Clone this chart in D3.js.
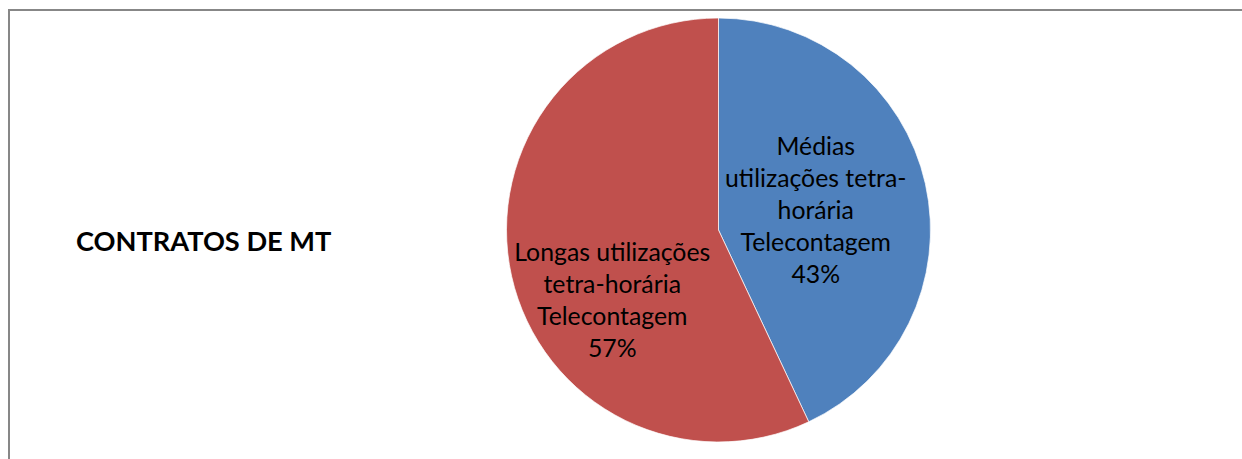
<!DOCTYPE html>
<html>
<head>
<meta charset="utf-8">
<script src="https://cdn.jsdelivr.net/npm/d3@7"></script>
<style>
  html, body { margin: 0; padding: 0; background: #fff; }
  svg { display: block; }
</style>
</head>
<body>
<svg id="chart" width="1242" height="459"></svg>
<script>
// Contract types (MT) and their shares, in percent
const categories = [
  ["Médias", "utilizações tetra-", "horária", "Telecontagem"],
  ["Longas utilizações", "tetra-horária", "Telecontagem"]
];
const shares = [43, 57];
const colors = ["#4F81BD", "#C0504D"];
const title = "CONTRATOS DE MT";

const W = 1242, H = 459;
const svg = d3.select("#chart");

// outer frame, running past the right and bottom edges
svg.append("rect")
  .attr("x", 9).attr("y", 10)
  .attr("width", W + 20).attr("height", H + 20)
  .attr("fill", "#fff")
  .attr("stroke", "#878787")
  .attr("stroke-width", 2);

const cx = 718.5, cy = 230, R = 212;
const g = svg.append("g").attr("transform", `translate(${cx},${cy})`);

const pie = d3.pie().sort(null).value(d => d);
const arcs = pie(shares);
const arc = d3.arc().innerRadius(0).outerRadius(R);

g.selectAll("path.slice")
  .data(arcs)
  .enter().append("path")
  .attr("class", "slice")
  .attr("d", arc)
  .attr("fill", (d, i) => colors[i])
  .attr("stroke", "#fff")
  .attr("stroke-width", 0.7);

// data labels: category lines plus the percentage
const labelArc = d3.arc().innerRadius(R * 0.47).outerRadius(R * 0.47);
const nudge = [[0, 2], [-9, 49]];
const lineH = 32;
const fontSize = 24.8;

arcs.forEach((a, i) => {
  const [lx, ly] = labelArc.centroid(a);
  const lines = categories[i].concat([shares[i] + "%"]);
  const x = lx + nudge[i][0];
  const yMid = ly + nudge[i][1];
  const t = g.append("text")
    .attr("text-anchor", "middle")
    .attr("font-family", "Lato, 'Open Sans', sans-serif")
    .attr("font-size", fontSize)
    .attr("fill", "#000");
  lines.forEach((s, k) => {
    t.append("tspan")
      .attr("x", x)
      .attr("y", yMid + (k - (lines.length - 1) / 2) * lineH)
      .attr("dy", "0.35em")
      .text(s);
  });
});

// chart title on the left
svg.append("text")
  .attr("x", 76).attr("y", 251)
  .attr("font-family", "Lato, 'Open Sans', sans-serif")
  .attr("font-weight", "bold")
  .attr("font-size", 27.2)
  .attr("fill", "#000")
  .text(title);
</script>
</body>
</html>
